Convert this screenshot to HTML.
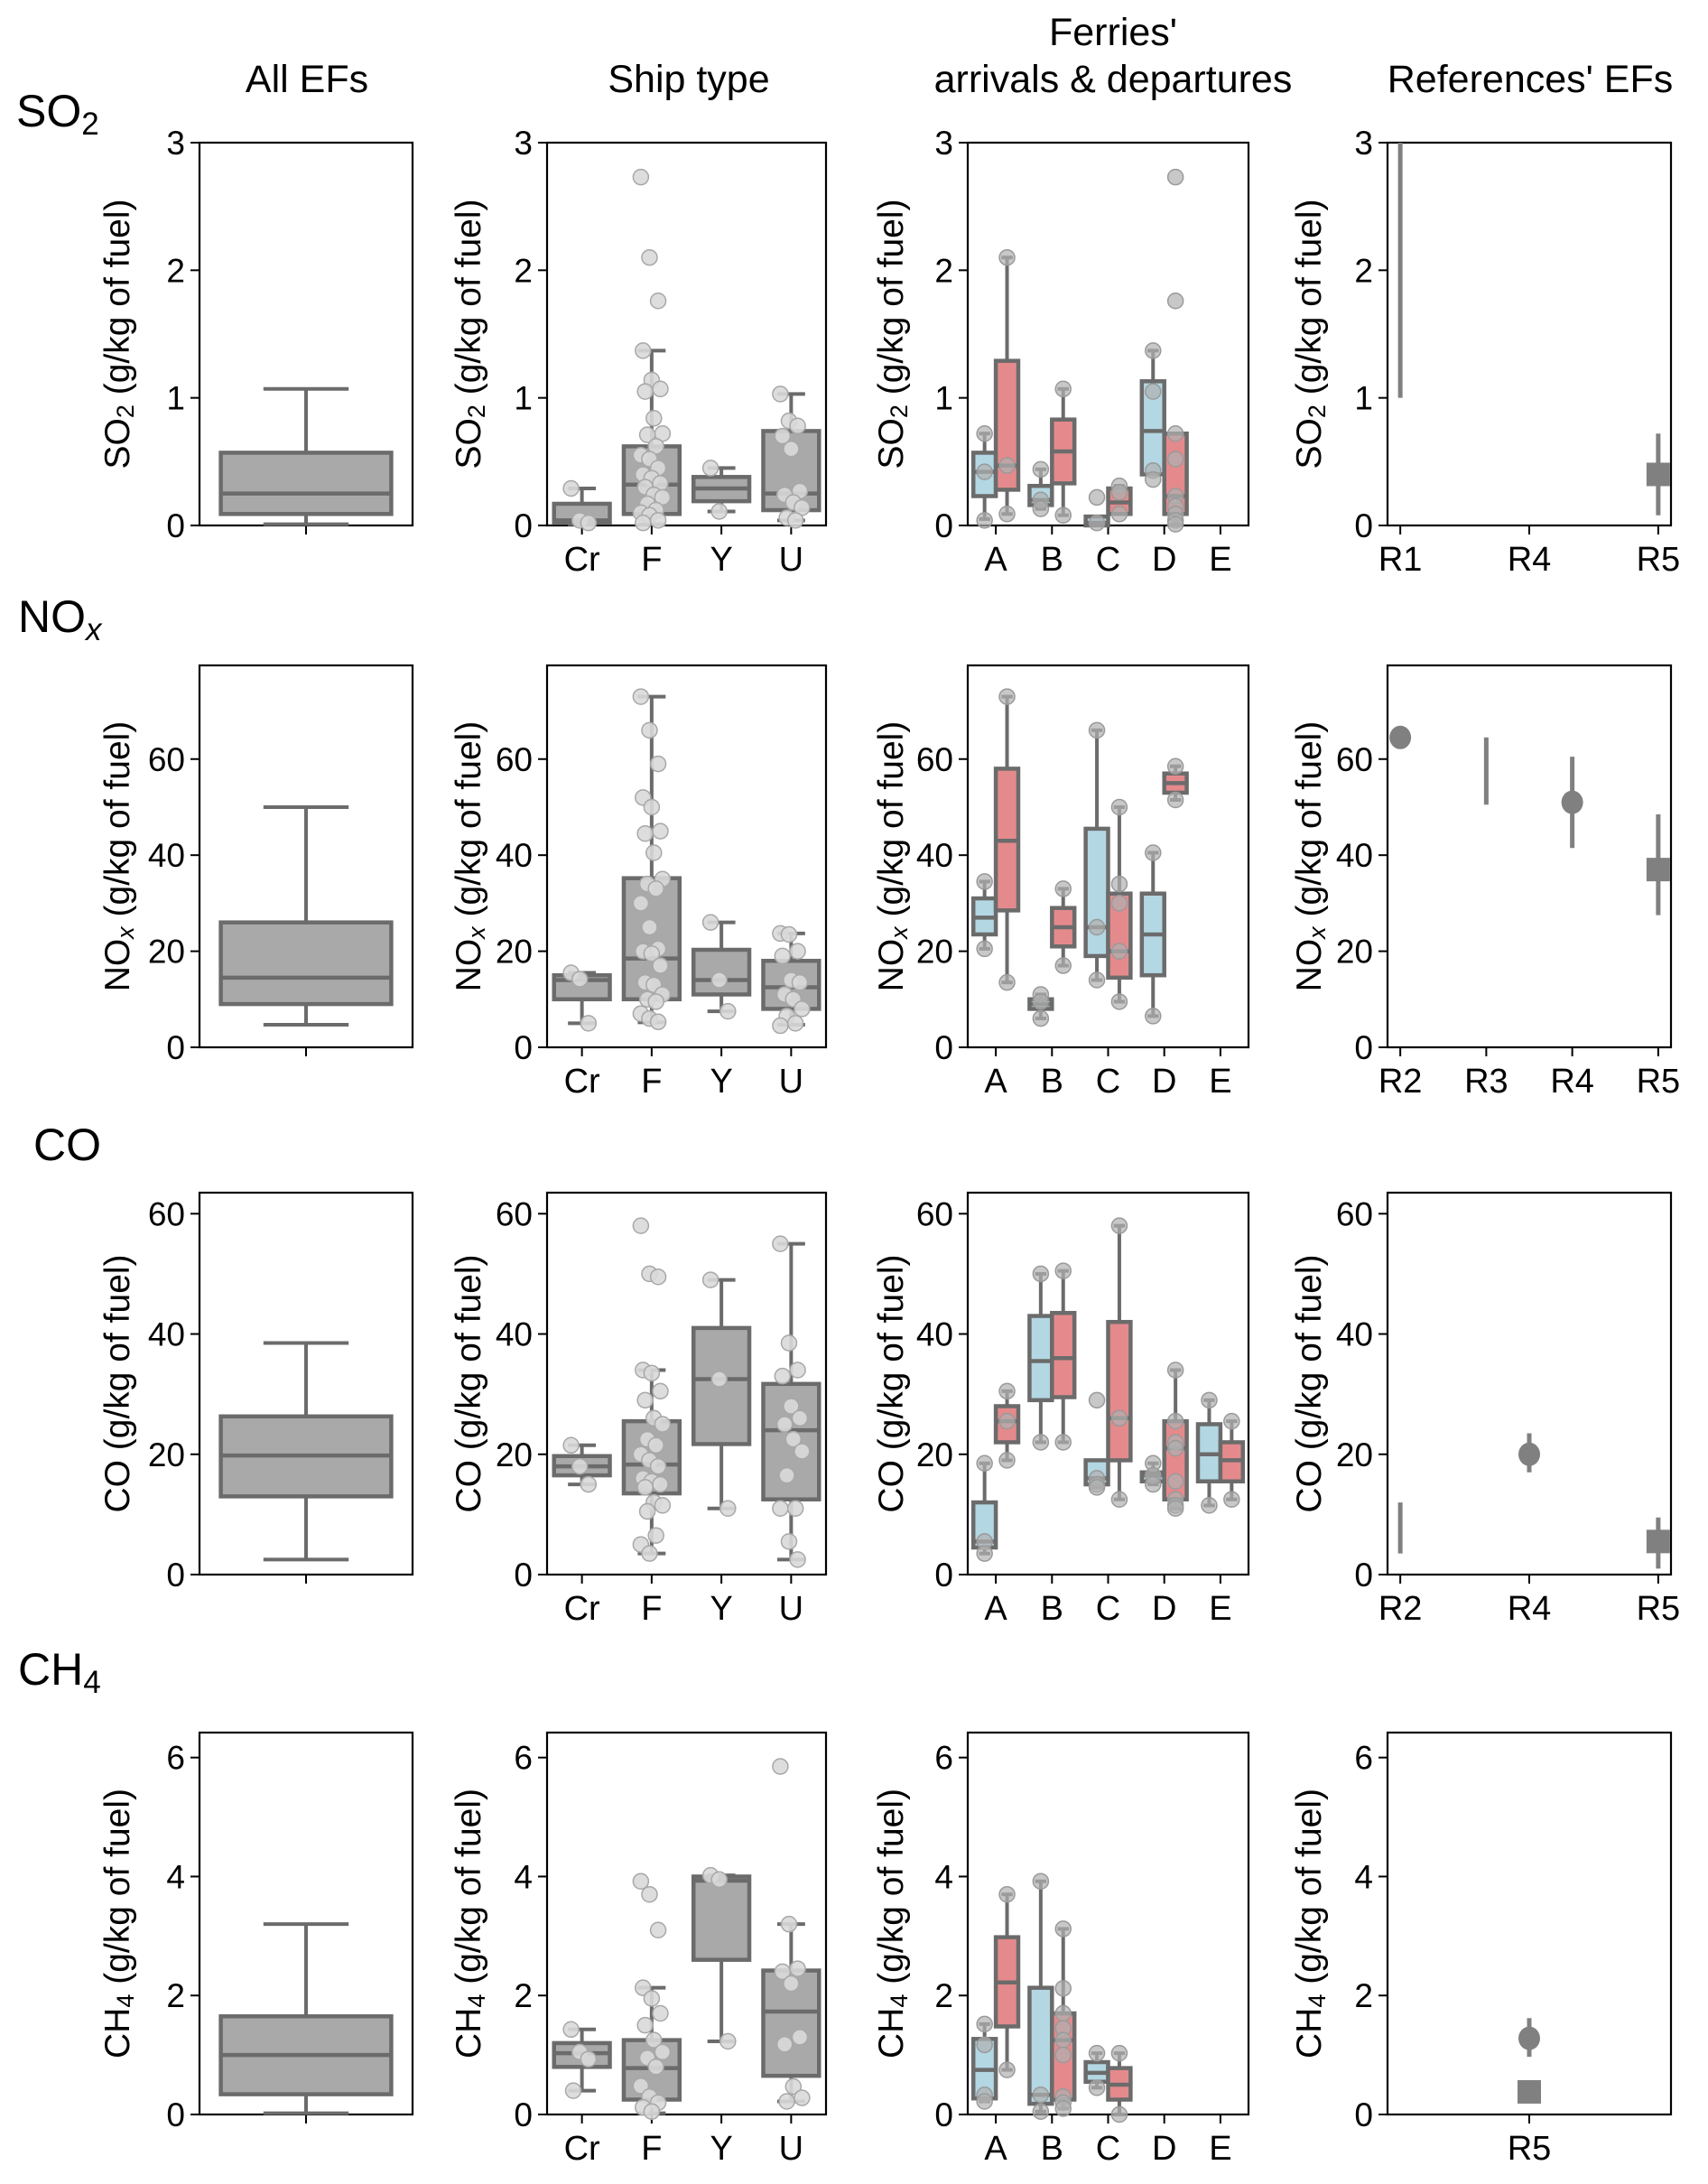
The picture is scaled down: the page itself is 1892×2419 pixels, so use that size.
<!DOCTYPE html>
<html><head><meta charset="utf-8">
<style>
html,body{margin:0;padding:0;background:#fff;}
svg{display:block;font-family:"Liberation Sans",Arial,sans-serif;}
</style></head>
<body>
<svg id="fig" width="1892" height="2419" viewBox="0 0 1892 2419" xmlns="http://www.w3.org/2000/svg"></svg>
<script>
// ---------- DATA ----------
const pollutants = ["SO2","NOx","CO","CH4"];
const yMax = [3, 79.5, 63.5, 6.42];
const yTicks = [[0,1,2,3],[0,20,40,60],[0,20,40,60],[0,2,4,6]];
const shipCats = ["Cr","F","Y","U"];
const ferryCats = ["A","B","C","D","E"];

// box stats: [q1, median, q3, whiskerLow, whiskerHigh]
const allBoxSO2 = [0.09,0.25,0.57,0.01,1.07];
const allBoxNOx = [9,14.5,26,4.7,50];
const allBoxCO  = [13,19.8,26.3,2.5,38.5];
const allBoxCH4 = [0.34,1.0,1.65,0.02,3.2];

const shipBoxSO2 = [[0.02,0.04,0.17,0.01,0.29],[0.09,0.32,0.62,0.01,1.37],[0.19,0.29,0.38,0.11,0.45],[0.12,0.25,0.74,0.04,1.03]];
const shipPtsSO2 = [[0.29,0.04,0.02],[2.73,2.1,1.76,1.37,1.14,1.07,1.05,0.84,0.72,0.71,0.62,0.55,0.52,0.45,0.40,0.37,0.33,0.30,0.24,0.22,0.17,0.12,0.10,0.08,0.04,0.02],[0.45,0.11],[1.03,0.82,0.78,0.70,0.60,0.27,0.24,0.18,0.14,0.06,0.04]];
const shipBoxNOx = [[10,14,15,5,15.5],[10,18.5,35.2,5.2,73],[11,14,20.3,7.5,26],[8,12.5,18,4.7,23.7]];
const shipPtsNOx = [[15.5,14.2,5],[73,66,59,52,50,45,44.5,40.5,35,34,33,30,25,20.5,20,19.5,17,13.5,13,11,10,9.5,7,6,5.3],[26,14,7.5],[23.7,23.5,20,19,14,13.5,11,10,8,6.5,5,4.5]];
const shipBoxCO = [[16.5,18,19.7,15,21.5],[13.5,18.3,25.5,3.5,34],[21.7,32.5,41,11,49],[12.5,24,31.7,2.5,55]];
const shipPtsCO = [[21.5,18,15],[58,50,49.5,34,33.5,30.5,29,26,25,22.5,21.5,20,19,18,16,15.5,15,14.5,12,11.5,10.5,6.5,5,3.5],[49,32.5,11],[55,38.5,34,33,28,26,25,22.5,20.5,16.5,11,11,5.5,2.5]];
const shipBoxCH4 = [[0.8,1.03,1.2,0.4,1.43],[0.25,0.78,1.25,0.02,2.13],[2.6,3.93,4.0,1.23,4.02],[0.65,1.73,2.42,0.22,3.2]];
const shipPtsCH4 = [[1.43,1.05,0.93,0.4],[3.92,3.7,3.1,2.13,1.95,1.7,1.5,1.25,1.05,0.95,0.8,0.48,0.3,0.2,0.12,0.05],[4.02,3.95,1.23],[5.85,3.2,2.45,2.4,2.2,1.3,1.18,0.47,0.28,0.22]];

// ferries: per category [arrival(blue), departure(red)], null = no data
const ferryBoxSO2 = [[[0.23,0.42,0.57,0.05,0.72],[0.28,0.47,1.29,0.09,2.1]],[[0.16,0.2,0.31,0.13,0.44],[0.33,0.58,0.83,0.08,1.07]],[[0,0.02,0.07,0,0.07],[0.09,0.18,0.29,0.09,0.31]],[[0.4,0.74,1.13,0.4,1.37],[0.09,0.23,0.72,0.01,0.72]],[null,null]];
const ferryPtsSO2 = [[[0.72,0.42,0.04],[2.1,0.47,0.09]],[[0.44,0.2,0.13],[1.07,0.08]],[[0.22,0.02],[0.31,0.26,0.09]],[[1.37,1.05,0.43,0.36],[2.73,1.76,0.72,0.52,0.23,0.15,0.09,0.04,0.01]],[[],[]]];
const ferryBoxNOx = [[[23.5,27,31,20.5,34.5],[28.5,43,58,13.5,73]],[[8,9,10,6,11],[21,25,29,17,33]],[[19,25,45.5,14,66],[14.5,20,32,9.5,50]],[[15,23.5,32,6.5,40.5],[53,55,57,51.5,58.5]],[null,null]];
const ferryPtsNOx = [[[34.5,20.5],[73,13.5]],[[11,9.5,6],[33,17]],[[66,25,14],[50,34,30,20,9.5]],[[40.5,6.5],[58.5,51.5]],[[],[]]];
const ferryBoxCO = [[[4.5,5.5,12,3.5,18.5],[22,25.5,28,19,30.5]],[[29,35.5,43,22,50],[29.5,36,43.5,22,50.5]],[[15,16,19,14.5,19],[19,26,42,12.5,58]],[[15.5,16.5,17,15,18.5],[12.5,21,25.5,11,34]],[[15.5,20,25,11.5,29],[15.5,19,22,12.5,25.5]]];
const ferryPtsCO = [[[18.5,5.5,3.5],[30.5,25.5,19]],[[50,22],[50.5,22]],[[29,16,15,14.5],[58,26,12.5]],[[18.5,16.5,15],[34,25.5,22,21,15.5,12.5,11.5,11]],[[29,11.5],[25.5,12.5]]];
const ferryBoxCH4 = [[[0.27,0.75,1.27,0.22,1.52],[1.48,2.22,2.98,0.75,3.7]],[[0.18,0.33,2.13,0.05,3.92],[0.25,1.25,1.7,0.1,3.12]],[[0.55,0.7,0.88,0.45,1.03],[0.25,0.5,0.78,0,1.03]],[null,null],[null,null]];
const ferryPtsCH4 = [[[1.52,1.17,0.33,0.22],[3.7,0.75]],[[3.92,0.33,0.05],[3.12,2.12,1.7,1.45,1.25,1.0,0.3,0.2,0.1]],[[1.03,0.45],[1.03,0]],[[],[]],[[],[]]];

// references: categories, then marks: [catIndex, kind, value, errLow, errHigh]
const refCatsSO2 = ["R1","R4","R5"];
const refMarksSO2 = [[0,"range",null,1,3.05],[2,"square",0.4,0.08,0.72]];
const refCatsNOx = ["R2","R3","R4","R5"];
const refMarksNOx = [[0,"circle",64.5,null,null],[1,"range",null,50.5,64.5],[2,"circle",51,41.5,60.5],[3,"square",37,27.5,48.5]];
const refCatsCO = ["R2","R4","R5"];
const refMarksCO = [[0,"range",null,3.5,12],[1,"circle",20,17,23.5],[2,"square",5.5,1,9.5]];
const refCatsCH4 = ["R5"];
const refMarksCH4 = [[0,"circle",1.28,0.97,1.62],[0,"square",0.38,null,null]];

// ---------- LAYOUT ----------
const colX = [[221,457],[606,915],[1072,1383],[1537,1851]];
const rowY = [[158,582],[737,1160],[1321,1744],[1919,2342]];
const NS = "http://www.w3.org/2000/svg";
const svg = document.getElementById("fig");
function el(tag, attrs, parent){
  const e = document.createElementNS(NS, tag);
  for (const k in attrs) e.setAttribute(k, attrs[k]);
  (parent||svg).appendChild(e);
  return e;
}
const BOXSTROKE="#6b6b6b", GRAYFILL="#a9a9a9", BLUE="#b3d7e3", RED="#e48a8c";

function yScale(r){ const [t,b]=rowY[r]; return v => b - v/yMax[r]*(b-t); }
function xScale(c, lo, hi){ const [l,rr]=colX[c]; return v => l + (v-lo)/(hi-lo)*(rr-l); }

function ylabel(r, c, g){
  const [t,b]=rowY[r]; const [l]=colX[c];
  const off = c===0?88:(c===2?82:84);
  const cx=l-off, cy=(t+b)/2;
  const tx = el("text",{x:cx,y:cy,"font-size":39,"text-anchor":"middle","dominant-baseline":"middle",transform:`rotate(-90 ${cx} ${cy})`,fill:"#000"},g);
  
  
  const names=[["SO","2"],["NO","x"],["CO",""],["CH","4"]][r];
  const t1=el("tspan",{},tx); t1.textContent=names[0];
  if(names[1]){ const t2=el("tspan",{"font-size":27,dy:8,"font-style":names[1]==="x"?"italic":"normal"},tx); t2.textContent=names[1];
    const t3=el("tspan",{dy:-8},tx); t3.textContent=" (g/kg of fuel)"; }
  else { const t3=el("tspan",{},tx); t3.textContent=" (g/kg of fuel)"; }
}

function axes(r, c, xTicks, xLabels){
  const g = el("g",{});
  
  
  const [l,rr]=colX[c], [t,b]=rowY[r]; const ys=yScale(r);
  const fr = el("rect",{x:l,y:t,width:rr-l,height:b-t,fill:"none",stroke:"#000","stroke-width":2.2},g);
   
  yTicks[r].forEach(v=>{
    const y=ys(v);
    el("line",{x1:l-10,x2:l,y1:y,y2:y,stroke:"#000","stroke-width":2},g);
    const tx=el("text",{x:l-16,y:y+13,"font-size":37,"text-anchor":"end",fill:"#000"},g);
     
    tx.textContent=v;
  });
  xTicks.forEach((x,i)=>{
    el("line",{x1:x,x2:x,y1:b,y2:b+10,stroke:"#000","stroke-width":2},g);
    if(xLabels && xLabels[i]!==undefined){
      const tx=el("text",{x:x,y:b+50,"font-size":38,"text-anchor":"middle",fill:"#000"},g);
       
      tx.textContent=xLabels[i];
    }
  });
  ylabel(r,c,g);
  return g;
}

function drawBox(g, xc, w, st, ys, fill, name){
  if(!st) return;
  const [q1,med,q3,lo,hi]=st;
  const bg=el("g",{},g);
   
  el("line",{x1:xc,x2:xc,y1:ys(q3),y2:ys(hi),stroke:BOXSTROKE,"stroke-width":4},bg);
  el("line",{x1:xc,x2:xc,y1:ys(q1),y2:ys(lo),stroke:BOXSTROKE,"stroke-width":4},bg);
  el("line",{x1:xc-w/4,x2:xc+w/4,y1:ys(hi),y2:ys(hi),stroke:BOXSTROKE,"stroke-width":4},bg);
  el("line",{x1:xc-w/4,x2:xc+w/4,y1:ys(lo),y2:ys(lo),stroke:BOXSTROKE,"stroke-width":4},bg);
  el("rect",{x:xc-w/2,y:ys(q3),width:w,height:Math.max(ys(q1)-ys(q3),1),fill:fill,stroke:BOXSTROKE,"stroke-width":4.5},bg);
  el("line",{x1:xc-w/2,x2:xc+w/2,y1:ys(med),y2:ys(med),stroke:BOXSTROKE,"stroke-width":4.5},bg);
}
function drawPts(g, xc, pts, ys, jit, fill, stroke, op){
  pts.forEach((v,i)=>{
    const dx = jit ? (((i*37)%11)-5)/5*jit : 0;
    const c=el("circle",{cx:xc+dx,cy:ys(v),r:8.5,fill:fill,stroke:stroke,"stroke-width":1.5,"fill-opacity":op},g);
     
  });
}

const allBoxes=[allBoxSO2,allBoxNOx,allBoxCO,allBoxCH4];
const shipBoxes=[shipBoxSO2,shipBoxNOx,shipBoxCO,shipBoxCH4];
const shipPts=[shipPtsSO2,shipPtsNOx,shipPtsCO,shipPtsCH4];
const ferryBoxes=[ferryBoxSO2,ferryBoxNOx,ferryBoxCO,ferryBoxCH4];
const ferryPts=[ferryPtsSO2,ferryPtsNOx,ferryPtsCO,ferryPtsCH4];
const refCats=[refCatsSO2,refCatsNOx,refCatsCO,refCatsCH4];
const refMarks=[refMarksSO2,refMarksNOx,refMarksCO,refMarksCH4];

for(let r=0;r<4;r++){
  const ys=yScale(r);
  let xs=xScale(0,-0.5,0.5);
  let g=axes(r,0,[xs(0)],null);
  drawBox(g, xs(0), xs(0.4)-xs(-0.4), allBoxes[r], ys, GRAYFILL, "box-all");
  xs=xScale(1,-0.5,3.5);
  g=axes(r,1,shipCats.map((_,i)=>xs(i)),shipCats);
  shipCats.forEach((cat,i)=>{
    drawBox(g, xs(i), xs(0.4)-xs(-0.4), shipBoxes[r][i], ys, GRAYFILL, "box-"+cat.toLowerCase());
    drawPts(g, xs(i), shipPts[r][i], ys, 12, "#d9d9d9", "#a8a8a8", 0.9);
  });
  xs=xScale(2,-0.5,4.5);
  g=axes(r,2,ferryCats.map((_,i)=>xs(i)),ferryCats);
  const bw=xs(0.4)-xs(0);
  ferryCats.forEach((cat,i)=>{
    [0,1].forEach(h=>{
      const xc = xs(i + (h===0?-0.2:0.2));
      drawBox(g, xc, bw, ferryBoxes[r][i][h], ys, h===0?BLUE:RED, "box-"+cat.toLowerCase()+(h===0?"-arrival":"-departure"));
      drawPts(g, xc, ferryPts[r][i][h], ys, 0, "#b0b0b0", "#9a9a9a", 0.7);
    });
  });
  const n=refCats[r].length;
  const pad = n===1?0.5:(n-1)*0.045/(1-0.09);
  xs = n===1 ? xScale(3,-1,1) : xScale(3,-pad,(n-1)+pad);
  g=axes(r,3,refCats[r].map((_,i)=>xs(i)),refCats[r]);
  refMarks[r].forEach(m=>{
    const [ci,kind,val,lo,hi]=m; const x=xs(ci);
    const mg=el("g",{},g);
    
    
    if(lo!==null){
      const y2 = Math.max(ys(hi), rowY[r][0]);
      el("line",{x1:x,x2:x,y1:ys(lo),y2:y2,stroke:"#808080","stroke-width":5},mg);
    }
    if(kind==="circle") el("ellipse",{cx:x,cy:ys(val),rx:12,ry:13,fill:"#808080"},mg);
    if(kind==="square") el("rect",{x:x-13,y:ys(val)-13,width:26,height:26,fill:"#808080"},mg);
  });
}

const titles=[["All EFs",340,102],["Ship type",763,102],["Ferries'",1233,50],["arrivals & departures",1233,102],["References' EFs",1695,102]];
titles.forEach(t=>{
  const tx=el("text",{x:t[1],y:t[2],"font-size":43,"text-anchor":"middle",fill:"#000"});
   
  tx.textContent=t[0];
});
const rowLabels=[["SO","2",18,140,false],["NO","x",20,700,true],["CO","",37,1285,false],["CH","4",20,1866,false]];
rowLabels.forEach(rl=>{
  const tx=el("text",{x:rl[2],y:rl[3],"font-size":50,fill:"#000"});
   
  const a=el("tspan",{},tx); a.textContent=rl[0];
  if(rl[1]){ const b=el("tspan",{"font-size":35,dy:9,"font-style":rl[4]?"italic":"normal"},tx); b.textContent=rl[1]; }
});
</script>
</body></html>
